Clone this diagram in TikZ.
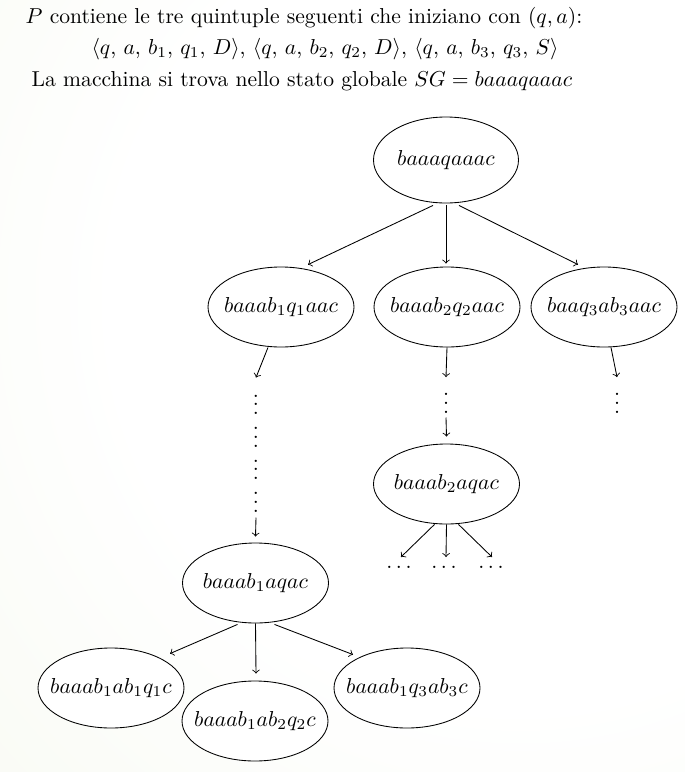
\documentclass[tikz,border=0pt]{standalone}
\usetikzlibrary{shapes.geometric,calc}
\definecolor{bgout}{RGB}{236,242,222}
\pgfdeclareradialshading{bgshade}{\pgfpoint{0bp}{0bp}}{color(0bp)=(white); color(14bp)=(white); color(50bp)=(bgout)}
\newdimen\upx \upx=0.463pt
\newcommand{\stxt}[1]{\makebox[0pt]{$#1$}}
\newcommand{\vdotsstack}{\vbox{\offinterlineskip\hbox{$\vdots$}\hbox{$\vdots$}\hbox{$\vdots$}\hbox{$\vdots$}}}
\begin{document}
\begin{tikzpicture}[x=\upx,y=-\upx,
  st/.style={draw,ellipse,fill=white,inner sep=0pt,minimum width=146\upx,minimum height=80\upx},
  arr/.style={->},
  dotsnode/.style={inner sep=0pt}]
\useasboundingbox (0,0) rectangle (685,772);
\begin{scope}
\clip (0,0) rectangle (685,772);
\shade[shading=bgshade] (520,300) circle[radius=720\upx];
\end{scope}
% header text
\node[anchor=base] (l1) at (304,23) {$P$ contiene le tre quintuple seguenti che iniziano con $(q,a)$:};
\node[anchor=base] (l2) at (325,54) {\(\langle q\), \(a\), \(b_1\), \(q_1\), \(D\rangle\), \(\langle q\), \(a\), \(b_2\), \(q_2\), \(D\rangle\), \(\langle q\), \(a\), \(b_3\), \(q_3\), \(S\rangle\)};
\node[anchor=base] (l3) at (302,86) {La macchina si trova nello stato globale $SG=baaaqaaac$};
% states
\node[st,minimum width=145\upx,minimum height=86\upx] (top) at (446,160) {\stxt{baaaqaaac}};
\node[st] (n1) at (281,307) {\stxt{baaab_1q_1aac}};
\node[st] (n2) at (447,307) {\stxt{baaab_2q_2aac}};
\node[st] (n3) at (604,307) {\stxt{baaq_3ab_3aac}};
\node[st] (m2) at (446.5,484) {\stxt{baaab_2aqac}};
\node[st] (m1) at (255.5,583) {\stxt{baaab_1aqac}};
\node[st] (b1) at (111,688) {\stxt{baaab_1ab_1q_1c}};
\node[st] (b2) at (255,721) {\stxt{baaab_1ab_2q_2c}};
\node[st] (b3) at (407,688) {\stxt{baaab_1q_3ab_3c}};
% vertical dots
\node[dotsnode,anchor=south] (d1) at (256,512.5) {\vdotsstack};
\node[dotsnode,anchor=south] (d2) at (446,413.5) {$\vdots$};
\node[dotsnode,anchor=south] (d3) at (617,413.5) {$\vdots$};
% horizontal dots
\node[dotsnode] (e1) at (399,567) {$\ldots$};
\node[dotsnode] (e2) at (444,567) {$\ldots$};
\node[dotsnode] (e3) at (491,567) {$\ldots$};
% connectors
\draw[arr] ($(top.south)+(-13,2)$) -- ($(n1.north)+(27,-2)$);
\draw[arr] ($(top.south)+(0,2)$) -- ($(n2.north)+(-1,-3)$);
\draw[arr] ($(top.south)+(13,2)$) -- ($(n3.north)+(-26,-2)$);
\draw[arr] ($(n1.south)+(-13,0)$) -- ($(d1.north)+(0,-4)$);
\draw[arr] ($(d1.south)+(0,5)$) -- ($(m1.north)+(0,-6)$);
\draw[arr] (n2.south) -- ($(d2.north)+(0,-3)$);
\draw[arr] ($(d2.south)+(0,4)$) -- ($(m2.north)+(0,-7)$);
\draw[arr] ($(n3.south)+(7,0)$) -- ($(d3.north)+(0,-3)$);
\draw[arr] ($(m2.south)+(-12,0)$) -- ($(e1.center)+(2,-10)$);
\draw[arr] (m2.south) -- ($(e2.center)+(2,-10)$);
\draw[arr] ($(m2.south)+(12,0)$) -- ($(e3.center)+(1,-10)$);
\draw[arr] ($(m1.south)+(-18,1)$) -- ($(b1.north)+(59,6)$);
\draw[arr] (m1.south) -- ($(b2.north)+(1,-7)$);
\draw[arr] ($(m1.south)+(19,1)$) -- ($(b3.north)+(-54,7)$);
\end{tikzpicture}
\end{document}
